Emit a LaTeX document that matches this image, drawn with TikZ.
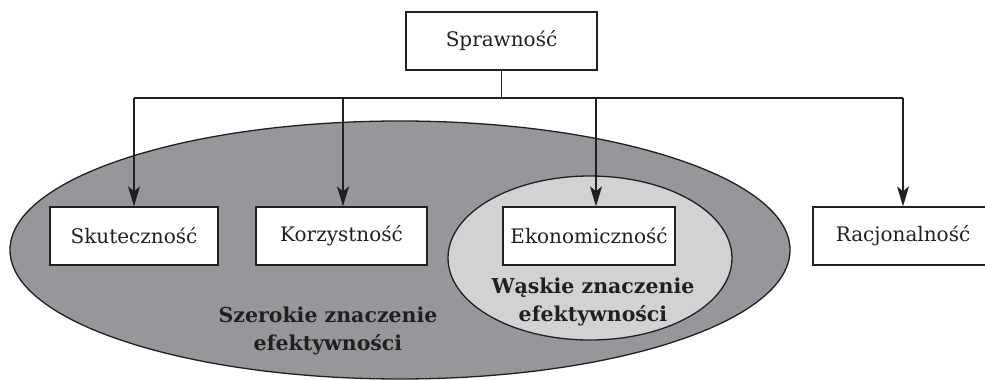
\documentclass[tikz,border=0pt]{standalone}
\usepackage{fontspec}
\setmainfont{DejaVu Serif}
\usetikzlibrary{shapes,arrows.meta}
\definecolor{wide}{RGB}{150,151,154}
\definecolor{narrow}{RGB}{209,210,212}
\definecolor{ink}{RGB}{35,31,32}
\tikzstyle{box} = [draw=ink, rectangle, fill=white, text=ink, minimum height=58pt, text centered, inner sep=0pt, font=\fontsize{20}{24}\selectfont]
\tikzstyle{line} = [draw=ink, -{Stealth[length=20pt,width=12pt,inset=5pt]}]
\tikzstyle{meaning} = [text=ink, align=center, font=\bfseries\fontsize{20.5}{28}\selectfont]

\begin{document}
\begin{tikzpicture}[x=1pt, y=-1pt, line width=1.3pt]
    \useasboundingbox (0,0) rectangle (985,380);
    \clip (0,0) rectangle (985,380);
    % the two meanings
    \draw[ink, fill=wide] (400,250) ellipse [x radius=390, y radius=129];
    \draw[ink, fill=narrow] (590,258) ellipse [x radius=142, y radius=82];

    \node [box, minimum width=191pt] (sprawnosc) at (501.5,41) {Sprawność};
    \node [box, minimum width=168pt] (skutecznosc) at (134,236) {Skuteczność};
    \node [box, minimum width=171pt] (korzystnosc) at (341.5,236) {Korzystność};
    \node [box, minimum width=172pt] (ekonomicznosc) at (589,236) {Ekonomiczność};
    \node [box, minimum width=180pt] (racjonalnosc) at (903,236) {Racjonalność};

    \node [meaning] (szerokie) at (328,331) {Szerokie znaczenie\\efektywności};
    \node [meaning] (waskie) at (593,302) {Wąskie znaczenie\\efektywności};

    \coordinate (bus-sku) at (134,98);
    \coordinate (bus-kor) at (343,98);
    \coordinate (bus-eko) at (596,98);
    \coordinate (bus-rac) at (903,98);

    \draw [ink] (sprawnosc.south) -- (sprawnosc.south |- bus-sku);
    \draw [ink] (bus-sku) -- (bus-rac);
    \path [line](bus-sku) -- (bus-sku |- skutecznosc.north);
    \path [line](bus-kor) -- (bus-kor |- korzystnosc.north);
    \path [line](bus-eko) -- (bus-eko |- ekonomicznosc.north);
    \path [line](bus-rac) -- (bus-rac |- racjonalnosc.north);
\end{tikzpicture}
\end{document}
